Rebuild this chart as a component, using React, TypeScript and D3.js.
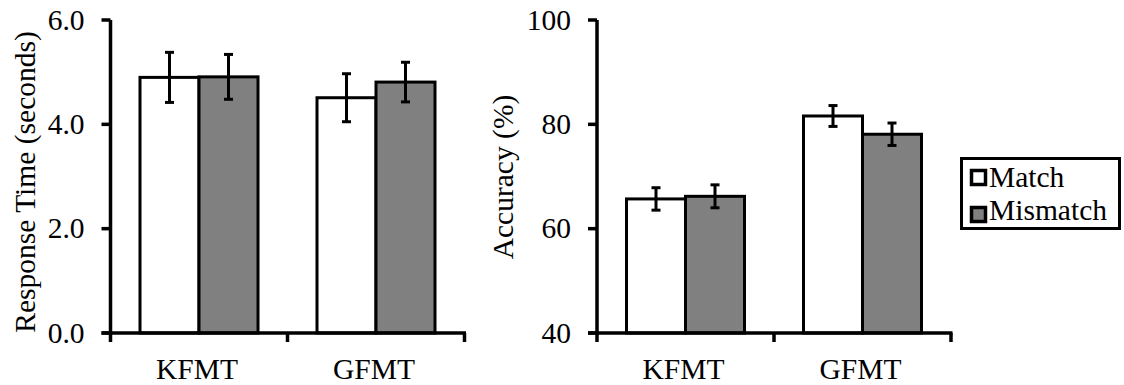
import React from "react";
import * as d3 from "d3";

// Categories and series
const categories = ["KFMT", "GFMT"];
const series = ["Match", "Mismatch"];

// Response time (seconds): means and error bar half-widths
const rtMatch = [4.9, 4.51];
const rtMismatch = [4.91, 4.81];
const rtMatchErr = [0.48, 0.46];
const rtMismatchErr = [0.43, 0.38];

// Accuracy (%): means and error bar half-widths
const accMatch = [65.7, 81.6];
const accMismatch = [66.2, 78.1];
const accMatchErr = [2.15, 2.0];
const accMismatchErr = [2.2, 2.15];

// Axis ticks
const rtTicks = [0, 2, 4, 6];
const accTicks = [40, 60, 80, 100];

const FONT = "Liberation Serif, Times New Roman, serif";
const FS = 29.5;
const fills: Record<string, string> = { Match: "#ffffff", Mismatch: "#808080" };
const textStyle: React.CSSProperties = { fontFamily: FONT, fontSize: FS };

type PanelProps = {
  left: number;
  width: number;
  top: number;
  bottom: number;
  domain: [number, number];
  ticks: number[];
  fmt: (v: number) => string;
  values: number[][];
  errors: number[][];
  label: string;
  labelX: number;
  labelY: number;
};

function Panel(p: PanelProps) {
  const y = d3.scaleLinear().domain(p.domain).range([p.bottom, p.top]);
  const x0 = d3
    .scaleBand<string>()
    .domain(categories)
    .range([p.left, p.left + p.width])
    .paddingInner(0)
    .paddingOuter(0);
  const x1 = d3
    .scaleBand<string>()
    .domain(series)
    .range([0, x0.bandwidth()])
    .paddingInner(0)
    .paddingOuter(0.5);
  const base = p.domain[0];
  const bounds = [p.left, ...categories.map((c) => (x0(c) as number) + x0.bandwidth())];

  return (
    <g>
      {/* bars */}
      {categories.map((c, ci) =>
        series.map((s, si) => {
          const v = p.values[si][ci];
          const bx = (x0(c) as number) + (x1(s) as number);
          return (
            <rect
              key={c + s}
              x={bx}
              y={y(v)}
              width={x1.bandwidth()}
              height={y(base) - y(v)}
              fill={fills[s]}
              stroke="#000"
              strokeWidth={3}
            />
          );
        })
      )}
      {/* error bars */}
      {categories.map((c, ci) =>
        series.map((s, si) => {
          const v = p.values[si][ci];
          const e = p.errors[si][ci];
          const cx = (x0(c) as number) + (x1(s) as number) + x1.bandwidth() / 2;
          return (
            <g key={"e" + c + s} stroke="#000" strokeWidth={3}>
              <line x1={cx} x2={cx} y1={y(v + e)} y2={y(v - e)} />
              <line x1={cx - 4.5} x2={cx + 4.5} y1={y(v + e)} y2={y(v + e)} />
              <line x1={cx - 4.5} x2={cx + 4.5} y1={y(v - e)} y2={y(v - e)} />
            </g>
          );
        })
      )}
      {/* y axis */}
      <line x1={p.left} x2={p.left} y1={p.top} y2={p.bottom} stroke="#000" strokeWidth={3.5} />
      {p.ticks.map((t) => (
        <g key={"yt" + t}>
          <line x1={p.left - 9} x2={p.left} y1={y(t)} y2={y(t)} stroke="#000" strokeWidth={3.5} />
          <text x={p.left - 26} y={y(t)} dy="0.33em" textAnchor="end" style={textStyle} fill="#000">
            {p.fmt(t)}
          </text>
        </g>
      ))}
      {/* x axis */}
      <line
        x1={p.left - 9}
        x2={p.left + p.width + 1.5}
        y1={p.bottom}
        y2={p.bottom}
        stroke="#000"
        strokeWidth={3.5}
      />
      {bounds.map((bx, i) => (
        <line key={"xt" + i} x1={bx} x2={bx} y1={p.bottom} y2={p.bottom + 9} stroke="#000" strokeWidth={3.5} />
      ))}
      {categories.map((c) => (
        <text
          key={"xl" + c}
          x={(x0(c) as number) + x0.bandwidth() / 2 - 2}
          y={379}
          textAnchor="middle"
          style={textStyle}
          fill="#000"
        >
          {c}
        </text>
      ))}
      {/* y axis title */}
      <text
        transform={`translate(${p.labelX},${p.labelY}) rotate(-90)`}
        textAnchor="middle"
        style={textStyle}
        fill="#000"
      >
        {p.label}
      </text>
    </g>
  );
}

export default function App() {
  return (
    <svg width={1124} height={385} style={{ position: "absolute", left: 0, top: 0, background: "#fff" }}>
      <rect x={0} y={0} width={1124} height={385} fill="#fff" />
      <Panel
        left={110.5}
        width={354}
        top={20}
        bottom={333}
        domain={[0, 6]}
        ticks={rtTicks}
        fmt={(v) => d3.format(".1f")(v)}
        values={[rtMatch, rtMismatch]}
        errors={[rtMatchErr, rtMismatchErr]}
        label="Response Time (seconds)"
        labelX={35}
        labelY={182}
      />
      <Panel
        left={597}
        width={354}
        top={20}
        bottom={333}
        domain={[40, 100]}
        ticks={accTicks}
        fmt={(v) => String(v)}
        values={[accMatch, accMismatch]}
        errors={[accMatchErr, accMismatchErr]}
        label="Accuracy (%)"
        labelX={513}
        labelY={177}
      />
      {/* legend */}
      <g>
        <rect x={961.5} y={158.5} width={158} height={70} fill="#fff" stroke="#000" strokeWidth={3} />
        {series.map((s, i) => (
          <g key={"lg" + s}>
            <rect
              x={971.5}
              y={170.5 + i * 37}
              width={14}
              height={14}
              fill={fills[s]}
              stroke="#000"
              strokeWidth={3.5}
            />
            <text x={989} y={187 + i * 33} style={textStyle} fill="#000">
              {s}
            </text>
          </g>
        ))}
      </g>
    </svg>
  );
}
